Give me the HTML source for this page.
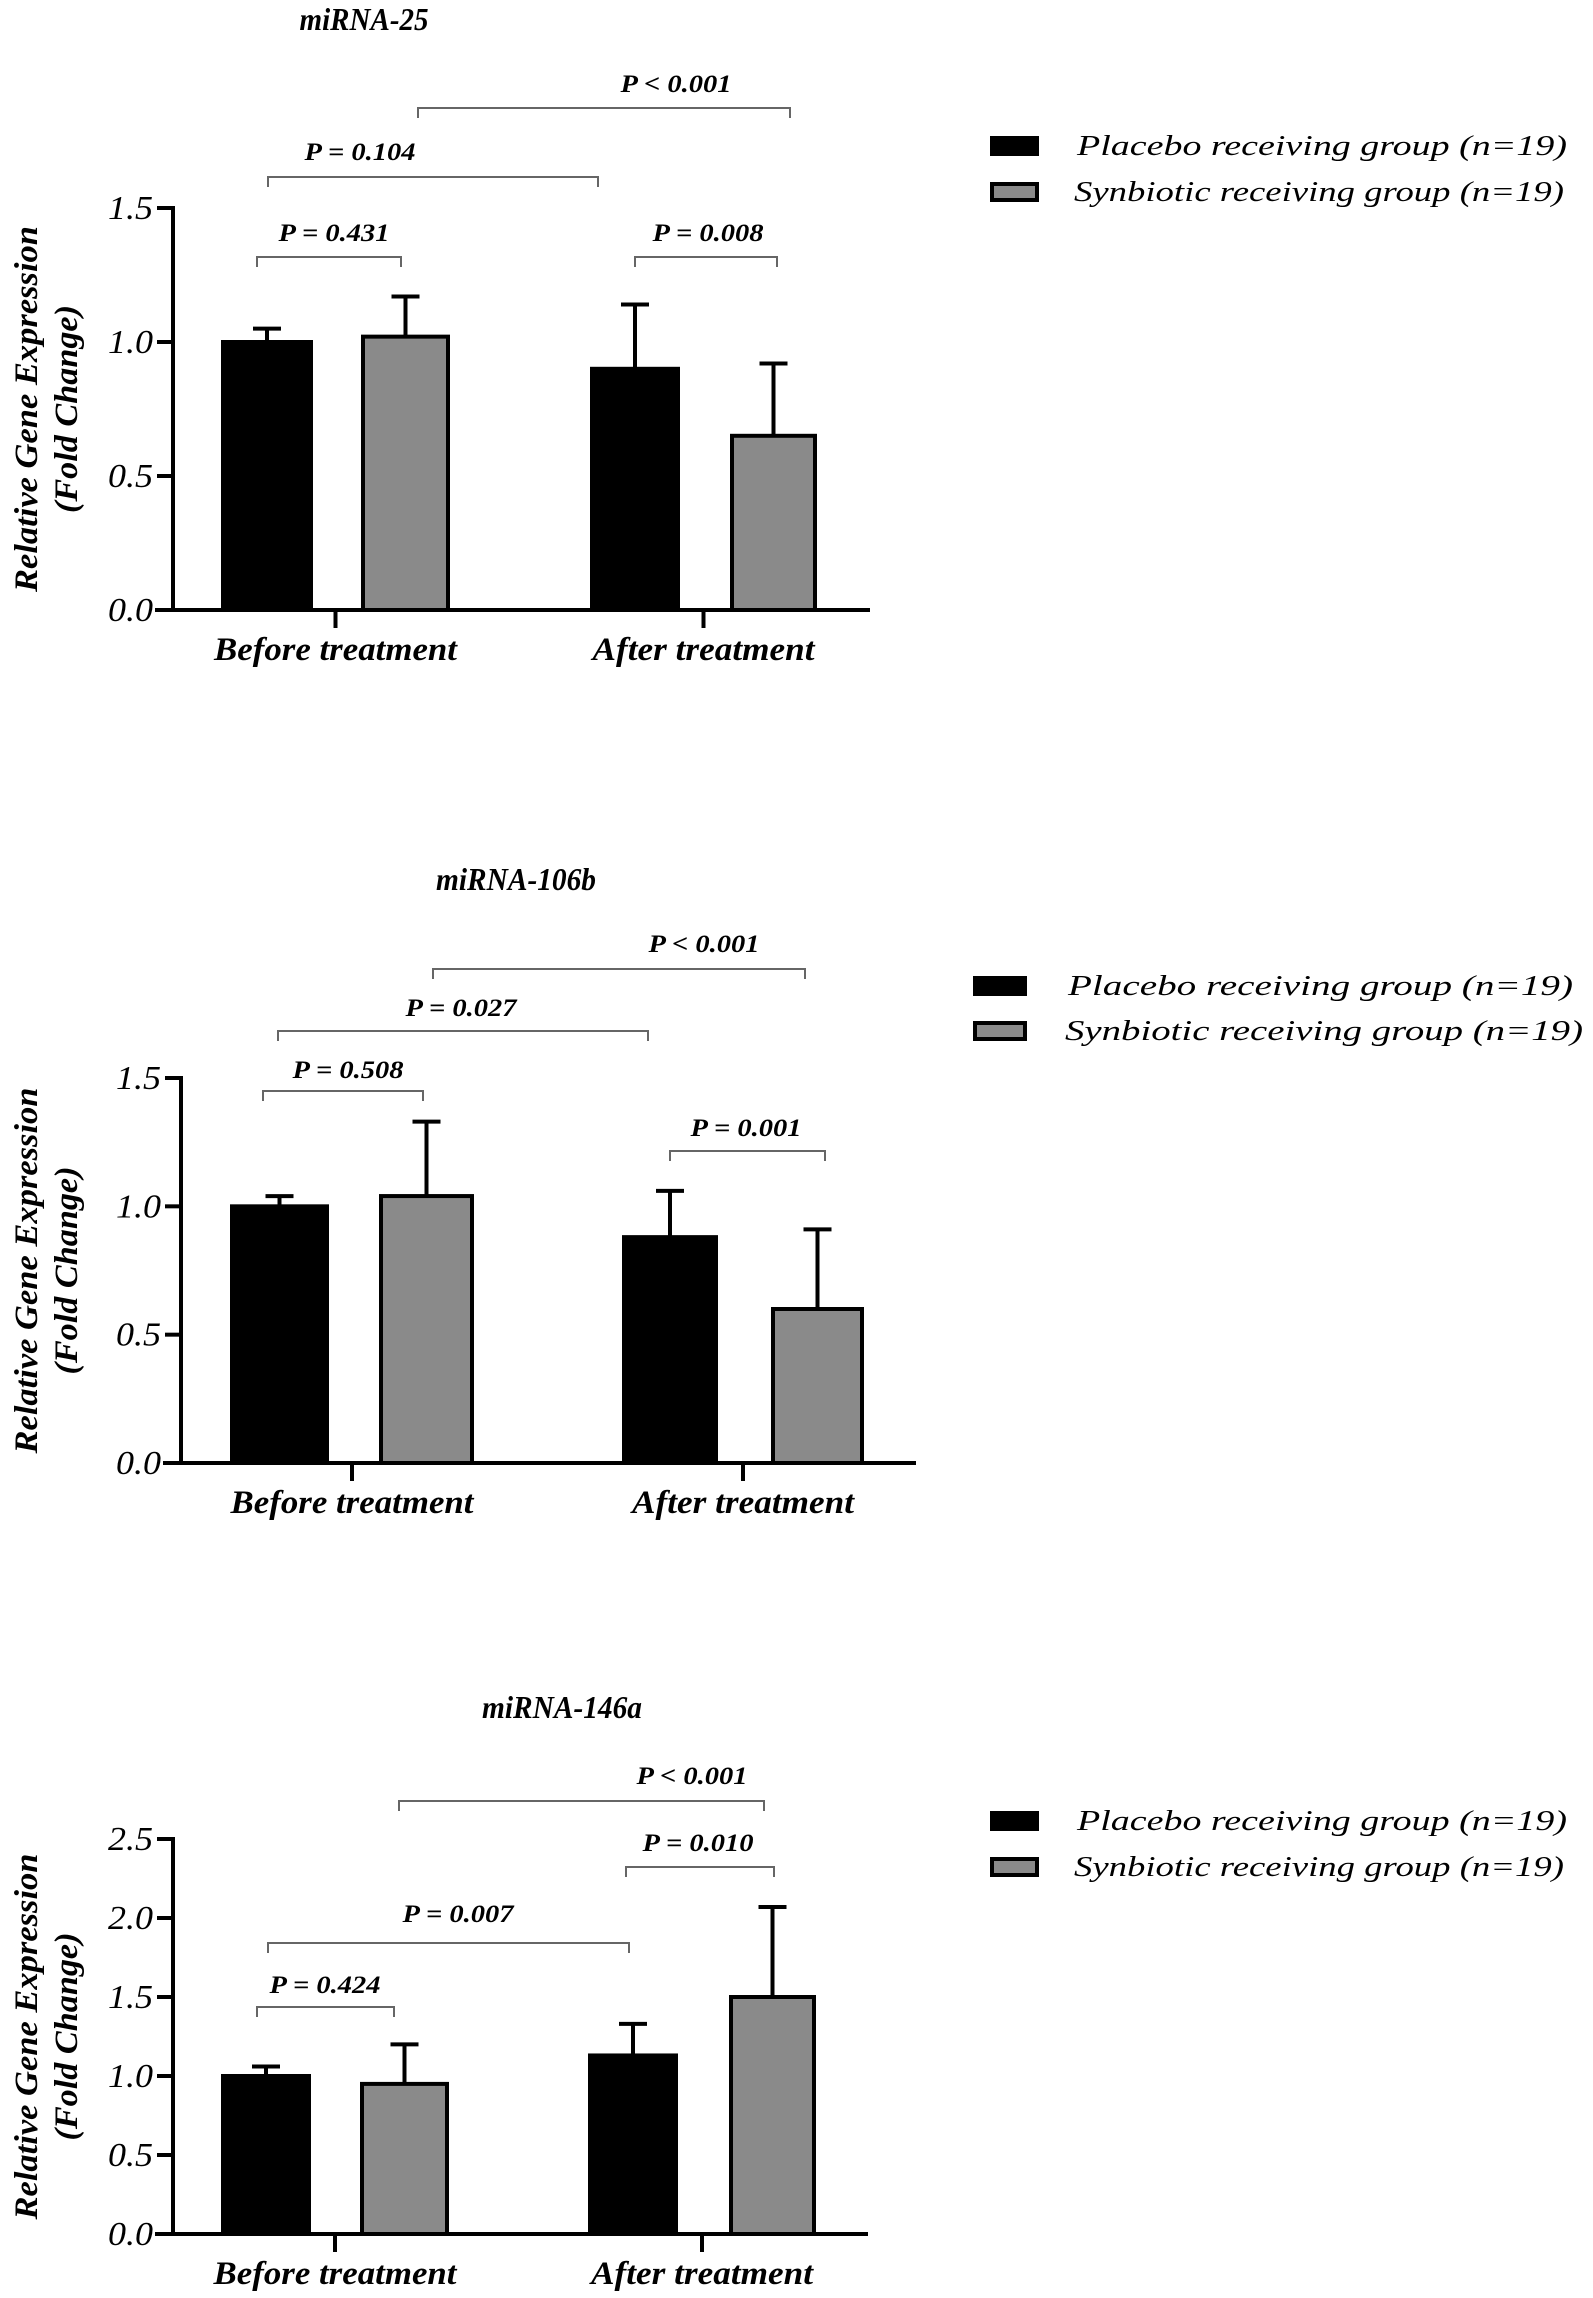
<!DOCTYPE html>
<html><head><meta charset="utf-8">
<style>
html,body{margin:0;padding:0;background:#fff;}
svg{display:block;}
text{font-family:"Liberation Serif",serif;}
</style></head>
<body>
<svg id="fig" width="1593" height="2298" viewBox="0 0 1593 2298" xmlns="http://www.w3.org/2000/svg"></svg>
<script>
// ---- data ----
const groups = ["Before treatment","After treatment"];
const seriesNames = ["Placebo receiving group","Synbiotic receiving group"];
const c1Placebo = [1.0, 0.9];
const c1PlaceboErr = [0.05, 0.24];
const c1Synbiotic = [1.02, 0.65];
const c1SynbioticErr = [0.15, 0.27];
const c1Ticks = [0.0, 0.5, 1.0, 1.5];
const c1PLabels = ["P < 0.001","P = 0.104","P = 0.431","P = 0.008"];

const c2Placebo = [1.0, 0.88];
const c2PlaceboErr = [0.04, 0.18];
const c2Synbiotic = [1.04, 0.6];
const c2SynbioticErr = [0.29, 0.31];
const c2Ticks = [0.0, 0.5, 1.0, 1.5];
const c2PLabels = ["P < 0.001","P = 0.027","P = 0.508","P = 0.001"];

const c3Placebo = [1.0, 1.13];
const c3PlaceboErr = [0.06, 0.2];
const c3Synbiotic = [0.95, 1.5];
const c3SynbioticErr = [0.25, 0.57];
const c3Ticks = [0.0, 0.5, 1.0, 1.5, 2.0, 2.5];
const c3PLabels = ["P < 0.001","P = 0.010","P = 0.007","P = 0.424"];

const svg = document.getElementById('fig');
const NS = "http://www.w3.org/2000/svg";
function mk(tag, attrs, parent){
  const e = document.createElementNS(NS, tag);
  for (const k in attrs) e.setAttribute(k, attrs[k]);
  (parent||svg).appendChild(e);
  return e;
}
function txt(s, attrs, parent){ const e = mk('text', attrs, parent); e.textContent = s; return e; }

function drawChart(cfg){
  const g = mk('g', {});
  
  
  const yMax = cfg.ticks[cfg.ticks.length-1];
  const ys = v => cfg.y0 - (v / yMax) * (cfg.y0 - cfg.yTop);
  const t = txt(cfg.title, {x:cfg.titleX, y:cfg.titleY, 'font-size':32, 'font-weight':'bold', 'font-style':'italic', 'text-anchor':'middle', textLength:cfg.titleW, lengthAdjust:'spacingAndGlyphs'}, g);
  
  
  const vals = [cfg.placebo, cfg.synbiotic];
  const errs = [cfg.placeboErr, cfg.synbioticErr];
  const fills = ["#000", "#8a8a8a"];
  for (let gi = 0; gi < groups.length; gi++){
    for (let s = 0; s < 2; s++){
      const [x1, x2] = cfg.barX[gi][s];
      const v = vals[s][gi], e = errs[s][gi];
      const top = ys(v), et = ys(v + e);
      const cx = (x1 + x2) / 2;
      const el = mk('line', {x1:cx, x2:cx, y1:top, y2:et, stroke:'#000', 'stroke-width':4}, g);
      
      
      const cap = mk('line', {x1:cx - 14, x2:cx + 14, y1:et, y2:et, stroke:'#000', 'stroke-width':4}, g);
      
      
      const r = mk('rect', {x:x1 + 2, y:top, width:x2 - x1 - 4, height:cfg.y0 - top, fill:fills[s], stroke:'#000', 'stroke-width':4}, g);
      
      
    }
  }
  const ya = mk('line', {x1:cfg.ax, x2:cfg.ax, y1:cfg.yTop - 2, y2:cfg.y0 + 2, stroke:'#000', 'stroke-width':4}, g);
  
  
  const xa = mk('line', {x1:cfg.ax - 18, x2:cfg.axEnd, y1:cfg.y0, y2:cfg.y0, stroke:'#000', 'stroke-width':4}, g);
  
  
  cfg.ticks.forEach(tv => {
    const yy = ys(tv);
    mk('line', {x1:cfg.ax - 16, x2:cfg.ax, y1:yy, y2:yy, stroke:'#000', 'stroke-width':4}, g);
    const tl = txt(tv.toFixed(1), {x:cfg.ax - 20, y:yy + 11, 'font-size':34, 'font-style':'italic', 'text-anchor':'end', textLength:45, lengthAdjust:'spacingAndGlyphs'}, g);
    
    
  });
  const xlW = [243, 222];
  for (let gi = 0; gi < groups.length; gi++){
    const cx = (cfg.barX[gi][0][0] + cfg.barX[gi][1][1]) / 2;
    mk('line', {x1:cx, x2:cx, y1:cfg.y0, y2:cfg.y0 + 18, stroke:'#000', 'stroke-width':4}, g);
    const xl = txt(groups[gi], {x:cx, y:cfg.y0 + 50, 'font-size':33, 'font-weight':'bold', 'font-style':'italic', 'text-anchor':'middle', textLength:xlW[gi], lengthAdjust:'spacingAndGlyphs'}, g);
    
    
  }
  const cy = (cfg.yTop + cfg.y0) / 2;
  const y1 = txt("Relative Gene Expression", {x:0, y:0, 'font-size':33, 'font-weight':'bold', 'font-style':'italic', 'text-anchor':'middle', textLength:366, lengthAdjust:'spacingAndGlyphs', transform:`translate(37,${cy}) rotate(-90)`}, g);
  
  
  const y2 = txt("(Fold Change)", {x:0, y:0, 'font-size':33, 'font-weight':'bold', 'font-style':'italic', 'text-anchor':'middle', textLength:208, lengthAdjust:'spacingAndGlyphs', transform:`translate(77,${cy}) rotate(-90)`}, g);
  
  
  cfg.brackets.forEach((b, i) => {
    const p = mk('path', {d:`M${b[0]},${b[2] + 10} L${b[0]},${b[2]} L${b[1]},${b[2]} L${b[1]},${b[2] + 10}`, fill:'none', stroke:'#666', 'stroke-width':2}, g);
    
    
    const pt = txt(cfg.pLabels[i], {x:b[3], y:b[4], 'font-size':25, 'font-weight':'bold', 'font-style':'italic', 'text-anchor':'middle', textLength:111, lengthAdjust:'spacingAndGlyphs'}, g);
    
    
  });
  for (let s = 0; s < 2; s++){
    const ly = cfg.legY[s];
    const sw = mk('rect', {x:cfg.legX + 2, y:ly - 8, width:cfg.legW - 4, height:16, fill:fills[s], stroke:'#000', 'stroke-width':4}, g);
    
    
    const lt = txt(seriesNames[s] + " (n=19)", {x:cfg.legTX[s], y:ly + 9, 'font-size':29, 'font-style':'italic', textLength:cfg.legTL[s], lengthAdjust:'spacingAndGlyphs'}, g);
    
    
  }
}

drawChart({name:'chart-mirna-25', title:'miRNA-25', titleX:364, titleY:30, titleW:129,
  placebo:c1Placebo, placeboErr:c1PlaceboErr, synbiotic:c1Synbiotic, synbioticErr:c1SynbioticErr,
  ticks:c1Ticks, pLabels:c1PLabels,
  ax:173, axEnd:870, yTop:208, y0:610,
  barX:[[[221,313],[361,450]],[[590,680],[730,817]]],
  brackets:[[418,790,108,676,92],[268,598,177,360,160],[257,401,257,334,241],[635,777,257,708,241]],
  legX:990, legW:49, legY:[146,192], legTX:[1077,1074], legTL:[490,490]});

drawChart({name:'chart-mirna-106b', title:'miRNA-106b', titleX:516, titleY:890, titleW:160,
  placebo:c2Placebo, placeboErr:c2PlaceboErr, synbiotic:c2Synbiotic, synbioticErr:c2SynbioticErr,
  ticks:c2Ticks, pLabels:c2PLabels,
  ax:181, axEnd:916, yTop:1078, y0:1463,
  barX:[[[230,329],[379,474]],[[622,718],[771,864]]],
  brackets:[[433,805,969,704,952],[278,648,1031,461,1016],[263,423,1091,348,1078],[670,825,1151,746,1136]],
  legX:973, legW:54, legY:[986,1031], legTX:[1068,1065], legTL:[505,518]});

drawChart({name:'chart-mirna-146a', title:'miRNA-146a', titleX:562, titleY:1718, titleW:160,
  placebo:c3Placebo, placeboErr:c3PlaceboErr, synbiotic:c3Synbiotic, synbioticErr:c3SynbioticErr,
  ticks:c3Ticks, pLabels:c3PLabels,
  ax:173, axEnd:868, yTop:1839, y0:2234,
  barX:[[[221,311],[360,449]],[[588,678],[729,816]]],
  brackets:[[399,764,1801,692,1784],[626,774,1867,698,1851],[268,629,1943,458,1922],[257,394,2007,325,1993]],
  legX:990, legW:49, legY:[1821,1867], legTX:[1077,1074], legTL:[490,490]});
</script>
</body></html>
